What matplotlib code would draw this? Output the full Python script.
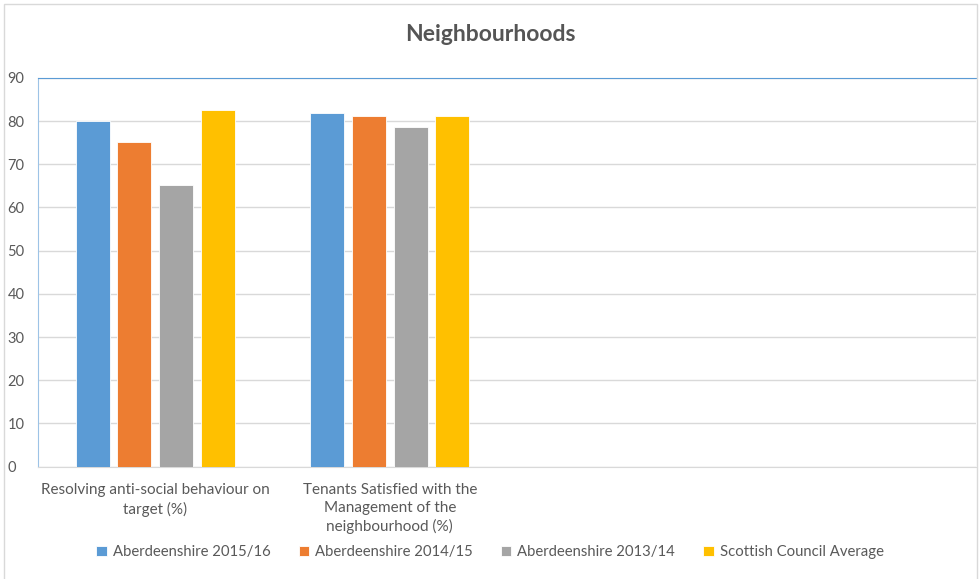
import numpy as np
import matplotlib.pyplot as plt
from matplotlib.patches import Rectangle

plt.rcParams['font.family'] = ['Lato', 'DejaVu Sans']

# data
categories = ["Resolving anti-social behaviour on\ntarget (%)",
              "Tenants Satisfied with the\nManagement of the\nneighbourhood (%)",
              "", ""]
series_names = ["Aberdeenshire 2015/16", "Aberdeenshire 2014/15",
                "Aberdeenshire 2013/14", "Scottish Council Average"]
vals_2015 = [80.0, 81.8]
vals_2014 = [75.2, 81.1]
vals_2013 = [65.2, 78.6]
vals_scot = [82.6, 81.1]
yticks = [0, 10, 20, 30, 40, 50, 60, 70, 80, 90]

colors = ["#5b9bd5", "#ed7d31", "#a5a5a5", "#ffc000"]
text_color = "#595959"

fig = plt.figure(figsize=(9.8, 5.79), dpi=100)
ax = fig.add_axes((0.0388, 0.194, 0.957, 0.6716))

width = 0.145
step = 0.178
x = np.arange(len(vals_2015))
all_series = [vals_2015, vals_2014, vals_2013, vals_scot]
for i, (name, vals, c) in enumerate(zip(series_names, all_series, colors)):
    off = (i - 1.5) * step
    ax.bar(x + off, vals, width, color=c, label=name, zorder=3,
           edgecolor='white', linewidth=0.6)

ax.set_xlim(-0.5, len(categories) - 0.5)
ax.set_ylim(0, 90)
ax.set_yticks(yticks)
ax.set_xticks(np.arange(len(categories)))
ax.set_xticklabels(categories, fontsize=11, color=text_color, linespacing=1.35)
ax.tick_params(axis='y', labelsize=10.5, colors=text_color, length=0, pad=22)
ax.tick_params(axis='x', length=0, pad=12)
for lab in ax.get_yticklabels():
    lab.set_horizontalalignment('left')

ax.grid(axis='y', color='#d9d9d9', linewidth=1, zorder=0)
ax.spines['right'].set_visible(False)
ax.spines['top'].set_color('#5b9bd5')
ax.spines['left'].set_color('#9dc3e6')
ax.spines['bottom'].set_color('#d9d9d9')

fig.text(0.5, 0.94, "Neighbourhoods", ha='center', va='center',
         fontsize=16.5, fontweight='bold', color='#555555')

fig.legend(loc='center', bbox_to_anchor=(0.5, 0.046), ncol=4, frameon=False,
           fontsize=10.7, handlelength=0.7, handleheight=0.7, handletextpad=0.4,
           columnspacing=1.9, labelcolor=text_color)

# outer chart border
fig.patches.append(Rectangle((4 / 980, -0.01), 973 / 980, 1 - 4 / 579 + 0.01,
                             transform=fig.transFigure, fill=False,
                             edgecolor='#d9d9d9', linewidth=1))

plt.savefig("out.png", dpi=100)
plt.close()
